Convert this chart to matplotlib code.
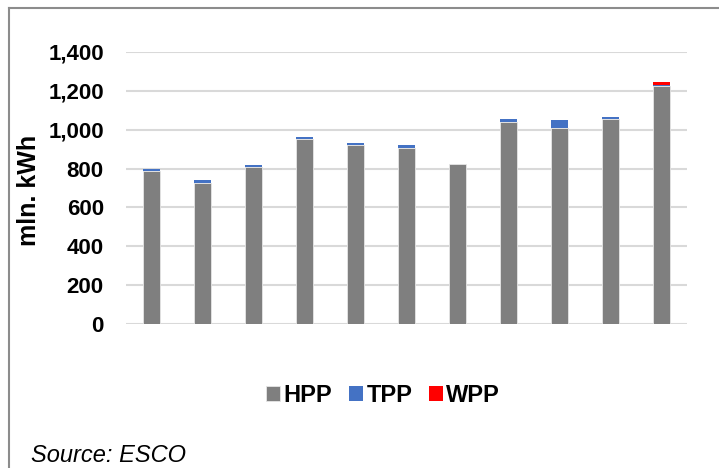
import numpy as np
import matplotlib.pyplot as plt
from matplotlib.lines import Line2D

plt.rcParams['font.family'] = ['Liberation Sans', 'DejaVu Sans']

# Monthly generation by plant type, mln. kWh
periods = np.arange(11)
hpp = [790, 727, 808, 952, 920, 905, 823, 1040, 1008, 1056, 1225]
tpp = [10, 12, 10, 10, 10, 15, 0, 13, 40, 10, 5]
wpp = [0, 0, 0, 0, 0, 0, 0, 0, 0, 0, 15]
yticks = [0, 200, 400, 600, 800, 1000, 1200, 1400]

fig = plt.figure(figsize=(7.19, 4.68), dpi=100)
ax = fig.add_axes([126/719, 1 - 324/468, (687 - 126)/719, (324 - 52)/468])

width = 0.33
ax.bar(periods, hpp, width, color='#7f7f7f', edgecolor='#e6e6e6', linewidth=0.6, label='HPP', zorder=3)
ax.bar(periods, tpp, width, bottom=hpp, color='#4472c4', linewidth=0, label='TPP', zorder=3)
base = np.array(hpp) + np.array(tpp)
ax.bar(periods, wpp, width, bottom=base, color='#ff0000', linewidth=0, label='WPP', zorder=3)

ax.set_xlim(-0.5, 10.5)
ax.set_ylim(0, 1400)
ax.set_yticks(yticks)
ax.set_yticklabels([f'{v:,}' for v in yticks], fontsize=16, fontweight='bold')
ax.set_xticks([])
ax.tick_params(axis='y', length=0, pad=16)
ax.grid(axis='y', color='#d9d9d9', linewidth=1.5, zorder=0)
for s in ax.spines.values():
    s.set_visible(False)

ax.set_ylabel('mln. kWh', fontsize=18, fontweight='bold')
ax.yaxis.set_label_coords(-(126 - 41)/561, 0.49)

leg = fig.legend(loc='center', bbox_to_anchor=(383/719, 1 - 395/468), ncol=3, frameon=False,
                 prop={'size': 17, 'weight': 'bold'}, handlelength=0.6, handleheight=0.6,
                 handletextpad=0.15, columnspacing=0.7)

fig.text(31/719, 1 - 455/468, 'Source: ESCO', fontsize=17, style='italic', va='center', ha='left')

# frame lines along top and left edge
fig.add_artist(Line2D([9/719, 1], [1 - 8/468, 1 - 8/468], color='#8c8c8c', linewidth=1.5))
fig.add_artist(Line2D([9/719, 9/719], [0, 1 - 8/468], color='#8c8c8c', linewidth=1.5))

plt.savefig('out.png')
